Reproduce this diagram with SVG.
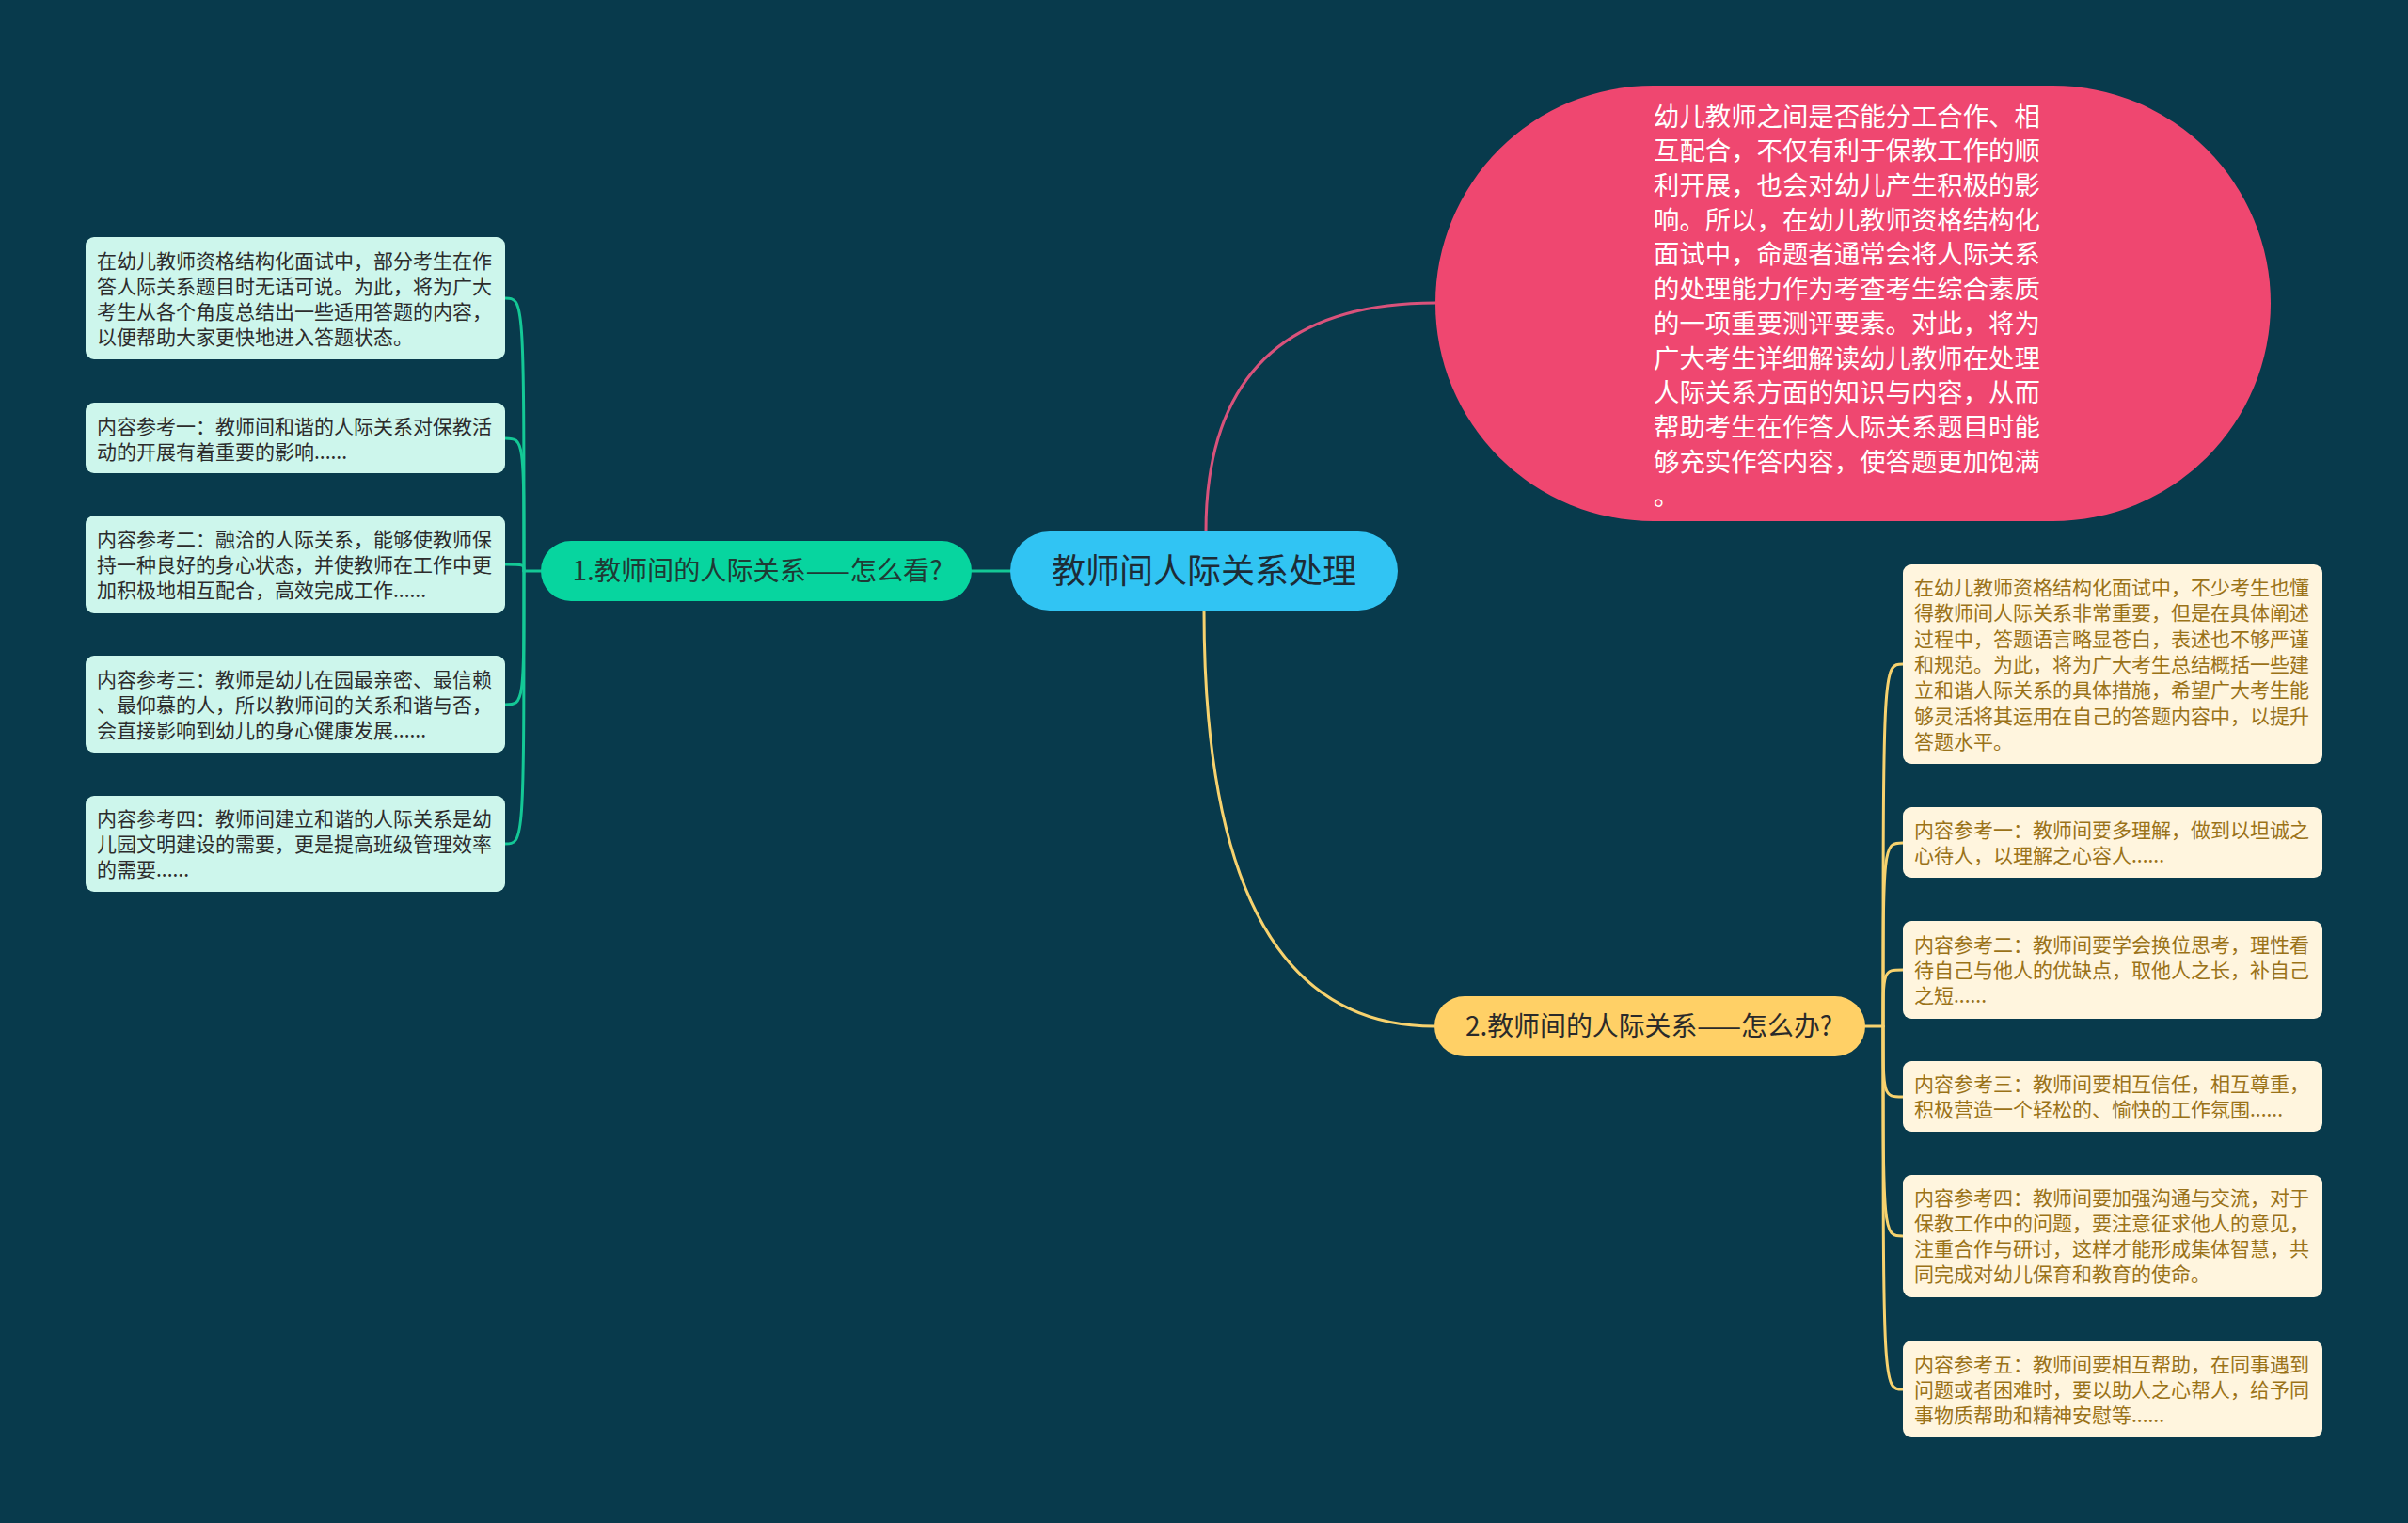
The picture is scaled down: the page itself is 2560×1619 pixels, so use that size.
<svg xmlns="http://www.w3.org/2000/svg" width="2560" height="1619" viewBox="0 0 2560 1619">
<style>
.cjk{font-family:"Noto Sans CJK SC","Noto Sans",sans-serif;}
.leafL{fill:#cdf6ec;}
.leafR{fill:#fff5de;}
.tL{font-size:21px;fill:#2c2c2c;}
.tR{font-size:21px;fill:#9a7218;}
.tP{font-size:27.4px;fill:#ffffff;}
.c{fill:none;stroke-width:3;stroke-linecap:round;}
.cg{stroke:#14c896;}
.cy{stroke:#f7d26e;}
.cp{stroke:#d9527b;}
</style>
<rect x="0" y="0" width="2560" height="1619" fill="#083a4c"/>

<g id="connectors">
  <path class="c cp" d="M1282 565 Q1282 322 1526 322"/>
  <path class="c cy" d="M1280 649 Q1280 1091 1525 1091"/>
  <path class="c cg" d="M1074 607 L1033 607"/>
  <path class="c cg" d="M575 607 L557 607"/>
  <path class="c cg" d="M557 607 C557 317 557 317 537 317"/>
  <path class="c cg" d="M557 607 C557 466 557 466 537 466"/>
  <path class="c cg" d="M557 607 C557 600 557 600 537 600"/>
  <path class="c cg" d="M557 607 C557 749 557 749 537 749"/>
  <path class="c cg" d="M557 607 C557 897 557 897 537 897"/>
  <path class="c cy" d="M1983 1091 L2002 1091"/>
  <path class="c cy" d="M2002 1091 C2002 706 2002 706 2023 706"/>
  <path class="c cy" d="M2002 1091 C2002 896 2002 896 2023 896"/>
  <path class="c cy" d="M2002 1091 C2002 1031 2002 1031 2023 1031"/>
  <path class="c cy" d="M2002 1091 C2002 1166 2002 1166 2023 1166"/>
  <path class="c cy" d="M2002 1091 C2002 1314 2002 1314 2023 1314"/>
  <path class="c cy" d="M2002 1091 C2002 1477 2002 1477 2023 1477"/>
</g>

<g id="center">
  <rect x="1074" y="565" width="412" height="84" rx="42" fill="#31c4f3"/>
  <text class="cjk" x="1280" y="620" font-size="36" fill="#1d2c36" text-anchor="middle">教师间人际关系处理</text>
</g>

<g id="branch1">
  <rect x="575" y="575" width="458" height="64" rx="32" fill="#07d59f"/>
  <text class="cjk" x="805" y="617" font-size="28" fill="#1f3a35" text-anchor="middle" textLength="393" lengthAdjust="spacingAndGlyphs">1.教师间的人际关系——怎么看?</text>
</g>

<g id="branch2">
  <rect x="1525" y="1059" width="458" height="64" rx="32" fill="#ffd066"/>
  <text class="cjk" x="1753" y="1101" font-size="28" fill="#2a2a2a" text-anchor="middle" textLength="390" lengthAdjust="spacingAndGlyphs">2.教师间的人际关系——怎么办?</text>
</g>

<g id="intro">
  <rect x="1526" y="91" width="888" height="463" rx="231.5" fill="#ef4770"/>
  <text class="cjk tP">
    <tspan x="1758" y="133.6">幼儿教师之间是否能分工合作、相</tspan>
    <tspan x="1758" y="170.3">互配合，不仅有利于保教工作的顺</tspan>
    <tspan x="1758" y="207">利开展，也会对幼儿产生积极的影</tspan>
    <tspan x="1758" y="243.7">响。所以，在幼儿教师资格结构化</tspan>
    <tspan x="1758" y="280.4">面试中，命题者通常会将人际关系</tspan>
    <tspan x="1758" y="317.1">的处理能力作为考查考生综合素质</tspan>
    <tspan x="1758" y="353.8">的一项重要测评要素。对此，将为</tspan>
    <tspan x="1758" y="390.5">广大考生详细解读幼儿教师在处理</tspan>
    <tspan x="1758" y="427.2">人际关系方面的知识与内容，从而</tspan>
    <tspan x="1758" y="463.9">帮助考生在作答人际关系题目时能</tspan>
    <tspan x="1758" y="500.6">够充实作答内容，使答题更加饱满</tspan>
    <tspan x="1758" y="537.3">。</tspan>
  </text>
</g>

<g id="left1">
  <rect class="leafL" x="91" y="252" width="446" height="130" rx="9"/>
  <text class="cjk tL">
    <tspan x="103" y="285">在幼儿教师资格结构化面试中，部分考生在作</tspan>
    <tspan x="103" y="312">答人际关系题目时无话可说。为此，将为广大</tspan>
    <tspan x="103" y="339">考生从各个角度总结出一些适用答题的内容，</tspan>
    <tspan x="103" y="366">以便帮助大家更快地进入答题状态。</tspan>
  </text>
</g>
<g id="left2">
  <rect class="leafL" x="91" y="428" width="446" height="75" rx="9"/>
  <text class="cjk tL">
    <tspan x="103" y="460.5">内容参考一：教师间和谐的人际关系对保教活</tspan>
    <tspan x="103" y="487.5">动的开展有着重要的影响......</tspan>
  </text>
</g>
<g id="left3">
  <rect class="leafL" x="91" y="548" width="446" height="104" rx="9"/>
  <text class="cjk tL">
    <tspan x="103" y="581">内容参考二：融洽的人际关系，能够使教师保</tspan>
    <tspan x="103" y="608">持一种良好的身心状态，并使教师在工作中更</tspan>
    <tspan x="103" y="635">加积极地相互配合，高效完成工作......</tspan>
  </text>
</g>
<g id="left4">
  <rect class="leafL" x="91" y="697" width="446" height="103" rx="9"/>
  <text class="cjk tL">
    <tspan x="103" y="730">内容参考三：教师是幼儿在园最亲密、最信赖</tspan>
    <tspan x="103" y="757">、最仰慕的人，所以教师间的关系和谐与否，</tspan>
    <tspan x="103" y="784">会直接影响到幼儿的身心健康发展......</tspan>
  </text>
</g>
<g id="left5">
  <rect class="leafL" x="91" y="846" width="446" height="102" rx="9"/>
  <text class="cjk tL">
    <tspan x="103" y="878">内容参考四：教师间建立和谐的人际关系是幼</tspan>
    <tspan x="103" y="905">儿园文明建设的需要，更是提高班级管理效率</tspan>
    <tspan x="103" y="932">的需要......</tspan>
  </text>
</g>

<g id="right0">
  <rect class="leafR" x="2023" y="600" width="446" height="212" rx="9"/>
  <text class="cjk tR">
    <tspan x="2035" y="632">在幼儿教师资格结构化面试中，不少考生也懂</tspan>
    <tspan x="2035" y="659.3">得教师间人际关系非常重要，但是在具体阐述</tspan>
    <tspan x="2035" y="686.6">过程中，答题语言略显苍白，表述也不够严谨</tspan>
    <tspan x="2035" y="713.9">和规范。为此，将为广大考生总结概括一些建</tspan>
    <tspan x="2035" y="741.2">立和谐人际关系的具体措施，希望广大考生能</tspan>
    <tspan x="2035" y="768.5">够灵活将其运用在自己的答题内容中，以提升</tspan>
    <tspan x="2035" y="795.8">答题水平。</tspan>
  </text>
</g>
<g id="right1">
  <rect class="leafR" x="2023" y="858" width="446" height="75" rx="9"/>
  <text class="cjk tR">
    <tspan x="2035" y="890">内容参考一：教师间要多理解，做到以坦诚之</tspan>
    <tspan x="2035" y="917">心待人，以理解之心容人......</tspan>
  </text>
</g>
<g id="right2">
  <rect class="leafR" x="2023" y="979" width="446" height="104" rx="9"/>
  <text class="cjk tR">
    <tspan x="2035" y="1012">内容参考二：教师间要学会换位思考，理性看</tspan>
    <tspan x="2035" y="1039">待自己与他人的优缺点，取他人之长，补自己</tspan>
    <tspan x="2035" y="1066">之短......</tspan>
  </text>
</g>
<g id="right3">
  <rect class="leafR" x="2023" y="1128" width="446" height="75" rx="9"/>
  <text class="cjk tR">
    <tspan x="2035" y="1160">内容参考三：教师间要相互信任，相互尊重，</tspan>
    <tspan x="2035" y="1187">积极营造一个轻松的、愉快的工作氛围......</tspan>
  </text>
</g>
<g id="right4">
  <rect class="leafR" x="2023" y="1249" width="446" height="130" rx="9"/>
  <text class="cjk tR">
    <tspan x="2035" y="1281">内容参考四：教师间要加强沟通与交流，对于</tspan>
    <tspan x="2035" y="1308">保教工作中的问题，要注意征求他人的意见，</tspan>
    <tspan x="2035" y="1335">注重合作与研讨，这样才能形成集体智慧，共</tspan>
    <tspan x="2035" y="1362">同完成对幼儿保育和教育的使命。</tspan>
  </text>
</g>
<g id="right5">
  <rect class="leafR" x="2023" y="1425" width="446" height="103" rx="9"/>
  <text class="cjk tR">
    <tspan x="2035" y="1457.5">内容参考五：教师间要相互帮助，在同事遇到</tspan>
    <tspan x="2035" y="1484.5">问题或者困难时，要以助人之心帮人，给予同</tspan>
    <tspan x="2035" y="1511.5">事物质帮助和精神安慰等......</tspan>
  </text>
</g>
</svg>
